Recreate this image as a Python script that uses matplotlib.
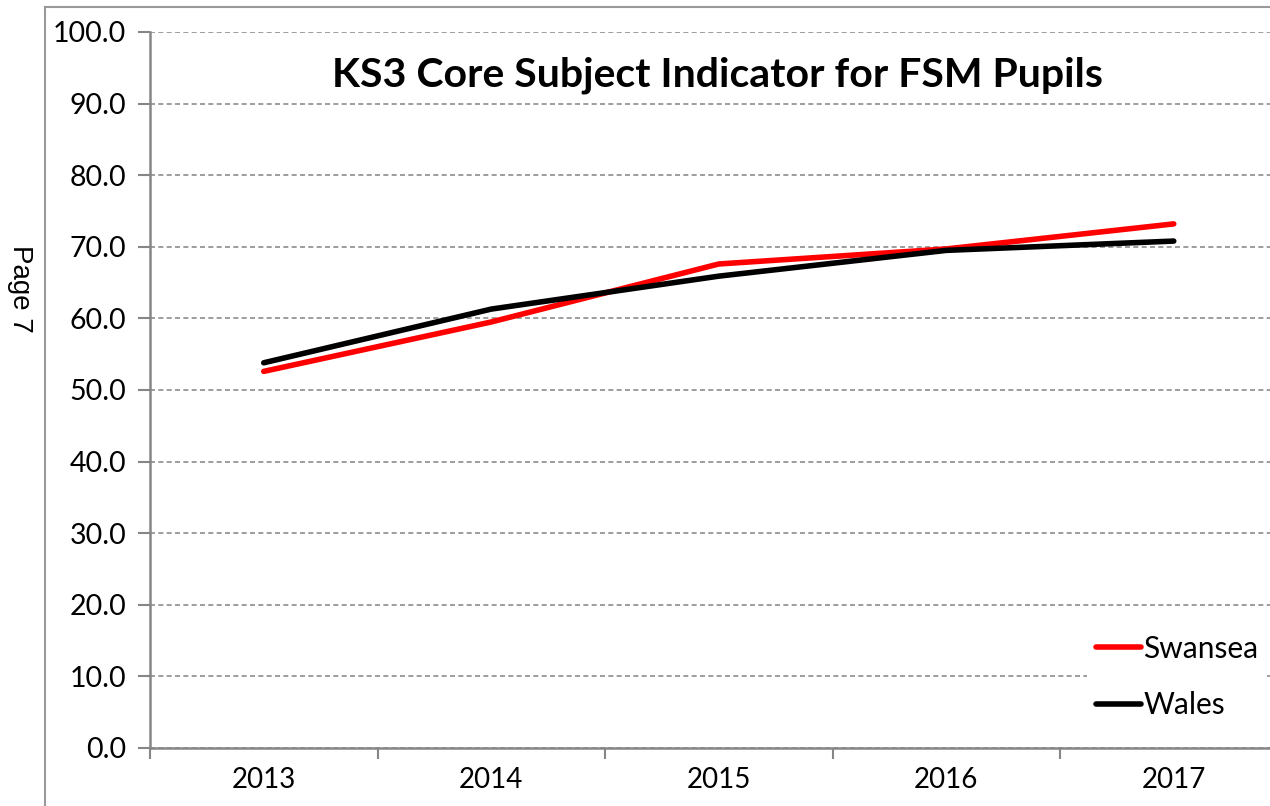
import matplotlib.pyplot as plt
from matplotlib.lines import Line2D
import numpy as np

years = ["2013", "2014", "2015", "2016", "2017"]
swansea = [52.6, 59.5, 67.6, 69.7, 73.2]
wales = [53.8, 61.3, 65.9, 69.5, 70.8]

plt.rcParams['font.family'] = ['Lato', 'DejaVu Sans']

W, H = 1270, 806
fig = plt.figure(figsize=(W / 100, H / 100), dpi=100)
ax = fig.add_axes([150 / W, 1 - 748 / H, 1137.5 / W, 716 / H])

x = np.arange(len(years))
ax.plot(x, swansea, color="#ff0000", lw=4, solid_capstyle="round", label="Swansea", zorder=3)
ax.plot(x, wales, color="#000000", lw=4, solid_capstyle="round", label="Wales", zorder=3)

ax.set_xlim(-0.5, len(years) - 0.5)
ax.set_ylim(0, 100)
ax.set_yticks(np.arange(0, 101, 10))
ax.set_yticklabels([f"{v:.1f}" for v in np.arange(0, 101, 10)])
ax.set_xticks(x)
ax.set_xticklabels(years)
ax.set_xticks(np.arange(-0.5, len(years), 1), minor=True)
ax.tick_params(axis="x", which="major", length=0, pad=14, labelsize=20)
ax.tick_params(axis="x", which="minor", length=8, width=1.5, color="#868686", direction="out")
ax.tick_params(axis="y", length=9, width=1.5, color="#868686", pad=8, labelsize=20.5)

ax.grid(axis="y", color="#8c8c8c", linestyle=(0, (3, 2)), lw=1.2, zorder=0)
ax.set_axisbelow(True)
for s in ["top", "right"]:
    ax.spines[s].set_visible(False)
for s in ["left", "bottom"]:
    ax.spines[s].set_color("#868686")
    ax.spines[s].set_linewidth(1.8)

ax.text(717 / W, 1 - 75 / H, "KS3 Core Subject Indicator for FSM Pupils",
        transform=fig.transFigure, ha="center", va="center",
        fontsize=29.5, fontweight="bold")

leg = ax.legend(loc="center left", bbox_to_anchor=(1072 / W, 1 - 677 / H),
                bbox_transform=fig.transFigure, frameon=True, fancybox=False,
                edgecolor="none", framealpha=1, fontsize=21.5, handlelength=1.5,
                handletextpad=0.08, labelspacing=0.95, borderpad=0.3)

# page frame and page label
fig.add_artist(Line2D([45 / W, 45 / W], [0, 1 - 7 / H], color="#999999", lw=1.5))
fig.add_artist(Line2D([45 / W, 1], [1 - 7 / H, 1 - 7 / H], color="#999999", lw=1.5))
fig.text(20 / W, 1 - 289 / H, "Page 7", rotation=270, ha="center", va="center",
         fontsize=20, family="Liberation Sans")

fig.savefig("out.png", dpi=100)
